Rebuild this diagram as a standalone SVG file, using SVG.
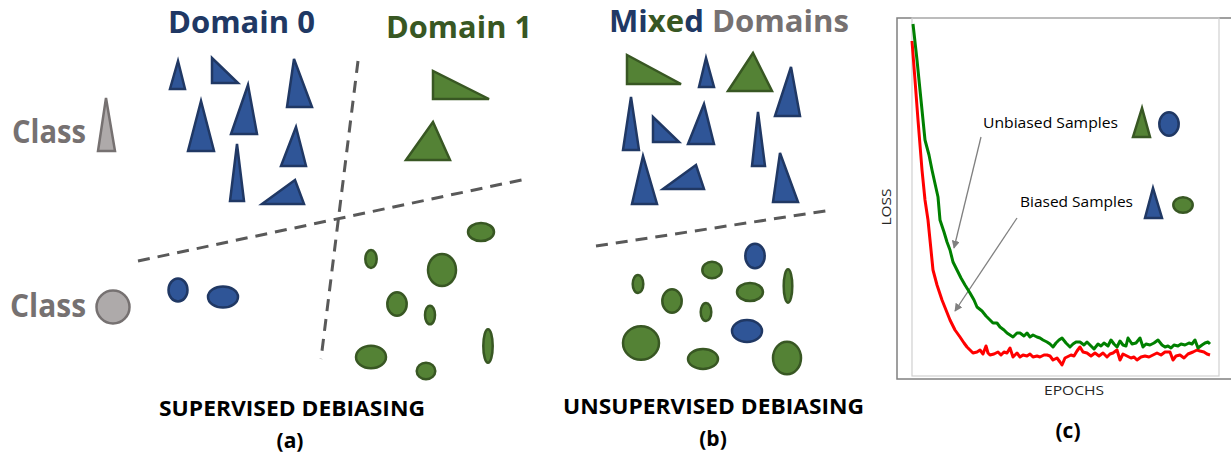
<svg xmlns="http://www.w3.org/2000/svg" width="1231" height="453" viewBox="0 0 1231 453">
<style>
.bt{fill:#2F5597;stroke:#203864;stroke-width:2.5;stroke-linejoin:miter}
.gt{fill:#548235;stroke:#385723;stroke-width:2.5;stroke-linejoin:miter}
.be{fill:#2F5597;stroke:#203864;stroke-width:2.5}
.ge{fill:#548235;stroke:#385723;stroke-width:2.5}
.dash{fill:none;stroke:#595959;stroke-width:3;stroke-dasharray:12 8}
.hd{font-family:'Open Sans','Liberation Sans',sans-serif;font-weight:bold}
.cap{font-family:'Open Sans','Liberation Sans',sans-serif;font-weight:bold;font-size:22px;fill:#000}
.sub{font-family:'Open Sans','Liberation Sans',sans-serif;font-weight:bold;font-size:21px;fill:#000}
.lab{font-family:'Open Sans','Liberation Sans',sans-serif;font-size:15px;fill:#000}
.ax{font-family:'Open Sans','Liberation Sans',sans-serif;font-size:13px;fill:#262626}
.arr{stroke:#808080;stroke-width:1.3;fill:none}
</style>
<defs>
<marker id="ah" viewBox="0 0 10 10" refX="9" refY="5" markerWidth="8" markerHeight="8" markerUnits="userSpaceOnUse" orient="auto">
<path d="M0,0 L10,5 L0,10 z" fill="#808080"/>
</marker>
</defs>
<rect width="1231" height="453" fill="#fff"/>

<g id="legend-a">
<text class="hd" x="12" y="143" font-size="33" fill="#767171" textLength="74" lengthAdjust="spacingAndGlyphs">Class</text>
<polygon points="106,98 98,151 115,151" fill="#AEAAAA" stroke="#767171" stroke-width="2.5"/>
<text class="hd" x="10" y="317" font-size="33" fill="#767171" textLength="76" lengthAdjust="spacingAndGlyphs">Class</text>
<circle cx="113" cy="307" r="16.5" fill="#AEAAAA" stroke="#767171" stroke-width="2.5"/>
</g>

<g id="panel-a">
<text class="hd" x="168" y="33" font-size="30" fill="#203864" textLength="147" lengthAdjust="spacingAndGlyphs">Domain 0</text>
<text class="hd" x="386" y="38" font-size="30" fill="#385723" textLength="146" lengthAdjust="spacingAndGlyphs">Domain 1</text>
<polygon class="bt" points="178,61 170,89 185,89"/>
<polygon class="bt" points="212,58 212,83 238,83"/>
<polygon class="bt" points="294,59 287,107 312,107"/>
<polygon class="bt" points="201,101 188,151 214,151"/>
<polygon class="bt" points="248,85 231,134 257,134"/>
<polygon class="bt" points="296,127 281,166 306,166"/>
<polygon class="bt" points="237,144 230,201 244,201"/>
<polygon class="bt" points="295,180 262,204 304,204"/>
<polygon class="gt" points="433,71 433,99 489,99"/>
<polygon class="gt" points="433,122 406,160 450,160"/>
<ellipse class="be" cx="178" cy="290" rx="9.5" ry="11.5"/>
<ellipse class="be" cx="223" cy="297" rx="15" ry="10.5"/>
<ellipse class="ge" cx="481" cy="232" rx="13" ry="9"/>
<ellipse class="ge" cx="371" cy="259" rx="5.7" ry="9"/>
<ellipse class="ge" cx="442" cy="270" rx="14" ry="16"/>
<ellipse class="ge" cx="397" cy="304" rx="9.7" ry="11.7"/>
<ellipse class="ge" cx="430" cy="315" rx="5" ry="9.3"/>
<ellipse class="ge" cx="488" cy="346" rx="4.7" ry="16.7"/>
<ellipse class="ge" cx="371" cy="357" rx="15" ry="11.3"/>
<ellipse class="ge" cx="426" cy="371" rx="9.3" ry="8.3"/>
<text class="cap" x="159" y="416" textLength="266" lengthAdjust="spacingAndGlyphs">SUPERVISED DEBIASING</text>
<text class="sub" x="290" y="448" text-anchor="middle">(a)</text>
</g>

<g id="panel-b">
<text class="hd" x="609" y="32" font-size="30" textLength="240" lengthAdjust="spacingAndGlyphs"><tspan fill="#203864">Mi</tspan><tspan fill="#385723">xe</tspan><tspan fill="#203864">d</tspan><tspan fill="#767171"> Domains</tspan></text>
<polygon class="gt" points="627,55 627,84 681,84"/>
<polygon class="bt" points="706,58 699,87 714,87"/>
<polygon class="gt" points="753,53 728,91 772,91"/>
<polygon class="bt" points="791,67 775,116 800,116"/>
<polygon class="bt" points="631,97 623,150 639,150"/>
<polygon class="bt" points="653,117 653,142 679,142"/>
<polygon class="bt" points="704,104 688,144 714,144"/>
<polygon class="bt" points="758,112 752,166 765,166"/>
<polygon class="bt" points="643,156 632,204 657,204"/>
<polygon class="bt" points="696,165 663,189 704,189"/>
<polygon class="bt" points="780,153 773,202 798,202"/>
<ellipse class="be" cx="755" cy="256" rx="9.7" ry="12.3"/>
<ellipse class="ge" cx="712" cy="270" rx="9.7" ry="8.3"/>
<ellipse class="ge" cx="638" cy="284" rx="5.3" ry="9"/>
<ellipse class="ge" cx="788" cy="286" rx="4.3" ry="16.7"/>
<ellipse class="ge" cx="750" cy="292" rx="13" ry="9"/>
<ellipse class="ge" cx="672" cy="301" rx="9.7" ry="11.7"/>
<ellipse class="ge" cx="706" cy="312" rx="5.3" ry="9"/>
<ellipse class="be" cx="747" cy="331" rx="15" ry="11"/>
<ellipse class="ge" cx="641" cy="343" rx="18" ry="16.7"/>
<ellipse class="ge" cx="703" cy="359" rx="15" ry="10"/>
<ellipse class="ge" cx="787" cy="358" rx="14" ry="16.3"/>
<text class="cap" x="563" y="414" textLength="301" lengthAdjust="spacingAndGlyphs">UNSUPERVISED DEBIASING</text>
<text class="sub" x="713" y="446" text-anchor="middle">(b)</text>
</g>

<g id="connectors">
<line class="dash" x1="358" y1="61" x2="321" y2="359"/>
<line class="dash" x1="138" y1="261" x2="526" y2="179"/>
<line class="dash" x1="596" y1="246" x2="832" y2="210"/>
<line class="arr" x1="981" y1="137" x2="954" y2="248" marker-end="url(#ah)"/>
<line class="arr" x1="1017" y1="218" x2="955" y2="311" marker-end="url(#ah)"/>
</g>

<g id="chart">
<rect x="897" y="18" width="345" height="361" fill="none" stroke="#808080" stroke-width="1.5"/>
<rect x="912" y="18" width="307" height="358" fill="none" stroke="#d0d0d0" stroke-width="1.2"/>
<polyline fill="none" stroke="#FF0000" stroke-width="3" stroke-linejoin="round" points="912,41 915,80 918,120 922,170 925,200 928,220 931,250 933,270 937,285 942,300 946,310 950,320 955,330 960,337 964,343 967,347 970,350 973,353 977,352 980,350 983,354 986,346 988,353 990,355 994,354 998,352 1001,355 1004,352 1007,353 1010,348 1013,357 1017,353 1020,357 1023,355 1027,356 1030,354 1033,357 1037,356 1040,357 1044,355 1047,355 1050,356 1053,360 1057,358 1060,362 1062,365 1065,358 1067,357 1071,355 1074,356 1077,351 1080,347 1083,352 1087,353 1091,356 1095,353 1099,356 1103,353 1107,357 1110,354 1113,353 1117,350 1120,360 1123,354 1127,356 1131,358 1134,357 1137,360 1141,357 1145,356 1149,357 1153,355 1157,353 1161,355 1165,352 1170,352 1173,360 1176,356 1180,355 1184,358 1188,354 1193,352 1197,350 1200,351 1204,352 1207,354 1210,355"/>
<polyline fill="none" stroke="#008000" stroke-width="3" stroke-linejoin="round" points="913,24 917,60 921,100 925,140 929,155 932,170 936,188 938,197 940,220 944,232 947,242 950,250 953,262 957,270 961,278 965,285 970,293 974,300 977,307 982,311 986,316 990,320 993,323 997,323 1000,327 1004,330 1007,333 1010,335 1013,337 1017,333 1020,333 1024,336 1027,333 1030,337 1033,335 1037,337 1040,338 1043,340 1047,342 1050,344 1053,347 1056,343 1059,340 1062,338 1066,343 1070,347 1073,344 1076,342 1080,342 1084,345 1087,342 1090,345 1094,349 1098,344 1101,346 1104,343 1108,346 1111,340 1114,344 1117,347 1120,341 1123,345 1126,346 1128,338 1132,344 1136,343 1140,338 1143,347 1146,344 1150,345 1154,343 1158,340 1162,345 1165,347 1168,346 1171,348 1174,345 1178,346 1181,344 1185,345 1189,343 1192,344 1195,340 1198,348 1202,345 1205,343 1208,342 1210,344"/>
<text class="ax" x="891" y="207" text-anchor="middle" transform="rotate(-90 891 207)" textLength="37" lengthAdjust="spacingAndGlyphs">LOSS</text>
<text class="ax" x="1044" y="395" textLength="60" lengthAdjust="spacingAndGlyphs">EPOCHS</text>
<text class="sub" x="1068" y="438" text-anchor="middle">(c)</text>
</g>

<g id="legend-c">
<text class="lab" x="983" y="128" textLength="135" lengthAdjust="spacingAndGlyphs">Unbiased Samples</text>
<polygon class="gt" points="1142,108 1133,137 1150,137"/>
<ellipse class="be" cx="1169" cy="124" rx="9.7" ry="11.7"/>
<text class="lab" x="1020" y="207" textLength="113" lengthAdjust="spacingAndGlyphs">Biased Samples</text>
<polygon class="bt" points="1153,188 1145,218 1162,218"/>
<ellipse class="ge" cx="1183" cy="205" rx="9.7" ry="7.7"/>
</g>
</svg>
